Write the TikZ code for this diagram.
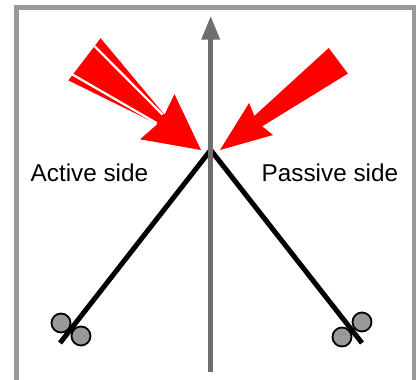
\documentclass[tikz,border=0pt]{standalone}
\usepackage{fontspec}
\setmainfont{Liberation Sans}
\definecolor{framegray}{HTML}{999999}
\definecolor{axisgray}{HTML}{6E6E6E}
\definecolor{ballgray}{HTML}{999999}
\tikzset{
  framestyle/.style={draw=framegray,line width=5pt},
  axisstyle/.style={draw=axisgray,line width=4.5pt},
  legstyle/.style={draw=black,line width=5pt,line join=miter},
  ballstyle/.style={draw=black,fill=ballgray,line width=1.8pt},
  redarrow/.style={fill=red,draw=none},
  gapstyle/.style={draw=white,line width=2.2pt,line cap=butt},
  labelstyle/.style={inner sep=0pt,anchor=base west,font=\fontsize{24.3}{28}\selectfont}
}
\begin{document}
\begin{tikzpicture}[x=1pt,y=-1pt]
\useasboundingbox (0,0) rectangle (416,380);
\clip (0,0) rectangle (416,380);
% frame
\draw[framestyle] (16,390) -- (16,7.5) -- (414.5,7.5) -- (414.5,390);
% key points
\coordinate (apex) at (210.7,150);
\coordinate (lfoot) at (60,343);
\coordinate (rfoot) at (362,343);
\coordinate (axbot) at (210.7,372);
\coordinate (axtop) at (210.7,37);
% balls
\node[ballstyle,circle,minimum size=19pt,inner sep=0pt] (bl1) at (61,323) {};
\node[ballstyle,circle,minimum size=19pt,inner sep=0pt] (bl2) at (81,336) {};
\node[ballstyle,circle,minimum size=19pt,inner sep=0pt] (br1) at (362,322) {};
\node[ballstyle,circle,minimum size=19pt,inner sep=0pt] (br2) at (342,337) {};
% V legs
\draw[legstyle] (lfoot) -- (apex) -- (rfoot);
% axis
\draw[axisstyle] (axbot) -- (axtop);
\fill[axisgray] (210.7,16.5) -- (220.2,39.5) -- (201.2,39.5) -- cycle;
% left red arrow (striped)
\fill[redarrow] (100.6,38.2) -- (164.5,114.6) -- (174.5,94.1) -- (201,150)
  -- (140.1,139.3) -- (157.3,124.2) -- (68.4,80.4) -- cycle;
\coordinate (gu1) at (94.6,46.2);
\coordinate (gu2) at (162.6,114.6);
\coordinate (gl1) at (72.6,74.6);
\coordinate (gl2) at (156.8,123.2);
\draw[gapstyle] (gu1) -- (gu2);
\draw[gapstyle] (gl1) -- (gl2);
% right red arrow
\fill[redarrow] (328.7,48.0) -- (254.4,115.9) -- (249.1,103.0) -- (220,150)
  -- (273.1,135.0) -- (262.2,126.3) -- (347.9,73.6) -- cycle;
% labels
\node[labelstyle] (act) at (30.5,181.7) {Active side};
\node[labelstyle] (pas) at (261.5,181.7) {Passive side};
\end{tikzpicture}
\end{document}
